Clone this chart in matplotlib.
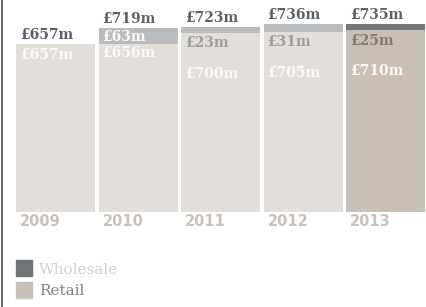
import matplotlib
matplotlib.use("Agg")
import matplotlib.pyplot as plt
from matplotlib.patches import Rectangle

years = ["2009", "2010", "2011", "2012", "2013"]
wholesale = [0, 63, 23, 31, 25]
retail = [657, 656, 700, 705, 710]
totals = [657, 719, 723, 736, 735]

retail_cols = ["#e2dfdb", "#e2dfdb", "#e2dfdb", "#e2dfdb", "#c8c0b7"]
whole_cols = ["#b9bcbe", "#b9bcbe", "#b9bcbe", "#b9bcbe", "#74787c"]
whole_txt = ["#ffffff", "#fbfaf8", "#9d9d9d", "#9d9d9d", "#7e7b78"]

W, H = 426, 307
fig = plt.figure(figsize=(W / 100, H / 100), dpi=100)
base_px = 212          # baseline, pixels from top
scale = 0.256          # px per £m
ax = fig.add_axes([0, (H - base_px) / H, 1, base_px / H])
ax.set_ylim(0, base_px / scale)
step, c0 = 82.5, 55.5
ax.set_xlim(-c0 / step, (W - c0) / step)
ax.axis("off")

bw = 79 / step
px = 0.72  # points per pixel
serif = "DejaVu Serif"
x = list(range(len(years)))

ax.bar(x, retail, width=bw, color=retail_cols, linewidth=0)
ax.bar(x, wholesale, bottom=retail, width=bw, color=whole_cols, linewidth=0)


def label(txt, xy, dy, col):
    ax.annotate(txt, xy, xytext=(4 * px, dy * px), textcoords="offset points",
                ha="left", va="center", fontsize=10, fontweight="bold",
                family=serif, color=col)


for i in x:
    left = i - bw / 2
    label(f"£{totals[i]}m", (left, totals[i]), 9, "#5d6166")
    if wholesale[i] == 0:
        label(f"£{retail[i]}m", (left, retail[i]), -11, "#fbfaf8")
    elif wholesale[i] > 40:
        label(f"£{wholesale[i]}m", (left, totals[i]), -9, whole_txt[i])
        label(f"£{retail[i]}m", (left, retail[i]), -9, "#fbfaf8")
    else:
        label(f"£{wholesale[i]}m", (left, retail[i]), -10.5, whole_txt[i])
        label(f"£{retail[i]}m", (left, retail[i]), -41, "#fbfaf8")
    ax.annotate(years[i], (left, 0), xytext=(4 * px, -10 * px),
                textcoords="offset points", ha="left", va="center",
                fontsize=10.5, fontweight="bold", color="#c9c2b9",
                annotation_clip=False)

# left rule
fig.add_artist(plt.Line2D([1.5 / W, 1.5 / W], [0, 1], color="#4d4d4d", lw=1.2))

# legend
fig.add_artist(Rectangle((16 / W, 1 - 276 / H), 16 / W, 16 / H, color="#6f7479"))
fig.add_artist(Rectangle((16 / W, 1 - 298 / H), 16 / W, 16 / H, color="#c9c1b8"))
fig.text(39 / W, 1 - 270 / H, "Wholesale", family=serif, fontsize=11,
         color="#d3cfca", va="center", ha="left")
fig.text(39 / W, 1 - 291 / H, "Retail", family=serif, fontsize=11,
         color="#808488", va="center", ha="left")

fig.savefig("out.png", dpi=100)
